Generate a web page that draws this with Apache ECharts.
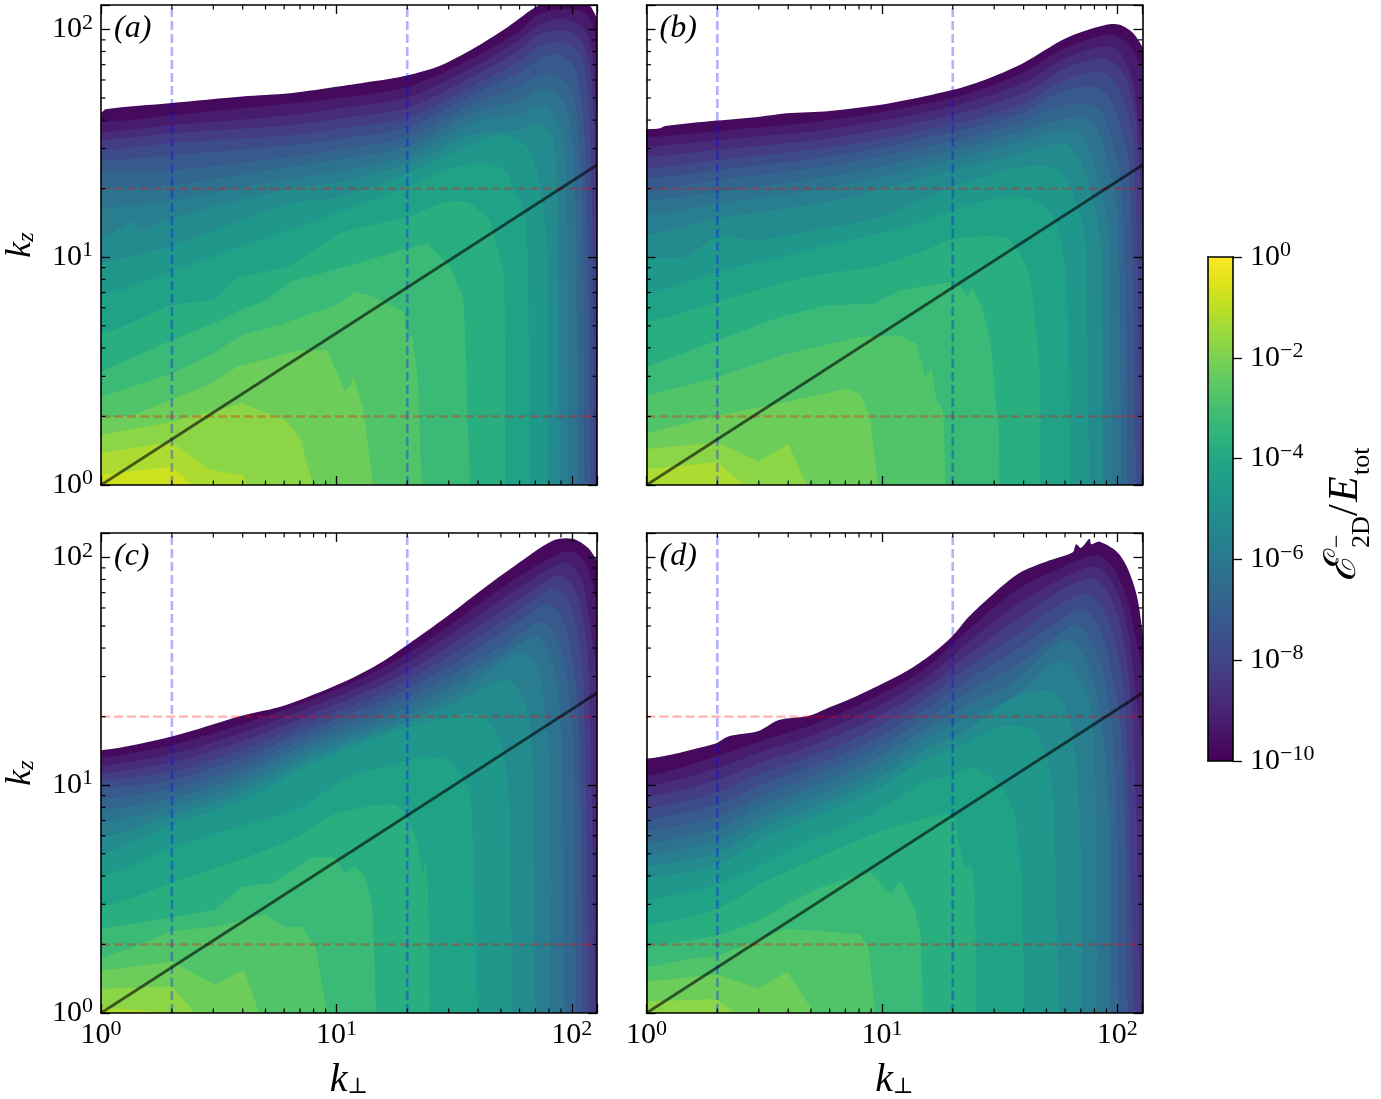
<!DOCTYPE html>
<html><head><meta charset="utf-8">
<style>html,body{margin:0;padding:0;background:#fff}#c{width:1381px;height:1099px}</style>
<script src="https://cdn.jsdelivr.net/npm/echarts@6/dist/echarts.min.js"></script>
</head><body><div id="c"></div>
<script>
// Contour levels of log10(E/E_tot); each contour bounds the band [level, level + 0.5].
const contourLevels = [-10,-9.5,-9,-8.5,-8,-7.5,-7,-6.5,-6,-5.5,-5,-4.5,-4,-3.5,-3,-2.5,-2,-1.5,-1];
// Every contour is a list of [log10 k_perp, log10 k_z], from the left edge round to the bottom edge.
const contoursA = [
 [[0,1.636],[.02,1.65],[.3,1.677],[.6,1.706],[.804,1.72],[1.017,1.75],[1.157,1.772],[1.3,1.798],[1.443,1.842],[1.584,1.917],[1.727,2.01],[1.868,2.11],[2,2.14],[2.072,2.11],[2.102,2.06],[2.13,2]],
 [[0,1.592],[.3,1.623],[.8,1.674],[1.017,1.7],[1.3,1.747],[1.584,1.876],[1.783,1.996],[1.84,2.054],[1.897,2.08],[1.996,2.088],[2.06,2.069],[2.092,2],[2.102,1.93],[2.13,1.74]],
 [[0,1.548],[.3,1.579],[.8,1.623],[1.017,1.655],[1.3,1.7],[1.584,1.836],[1.783,1.959],[1.854,2.018],[1.925,2.044],[1.996,2.04],[2.052,2],[2.08,1.93],[2.095,1.813],[2.103,1.667],[2.13,1.49]],
 [[0,1.513],[.3,1.544],[.8,1.579],[1.017,1.61],[1.3,1.655],[1.584,1.796],[1.783,1.915],[1.854,1.974],[1.925,1.996],[1.996,1.988],[2.038,1.952],[2.067,1.886],[2.084,1.784],[2.095,1.594],[2.105,1],[2.13,0]],
 [[0,1.469],[.3,1.5],[.8,1.535],[1.017,1.565],[1.3,1.611],[1.584,1.755],[1.783,1.864],[1.854,1.923],[1.925,1.944],[1.982,1.937],[2.024,1.9],[2.053,1.835],[2.067,1.725],[2.078,1.55],[2.09,1],[2.098,0]],
 [[0,1.425],[.3,1.447],[.8,1.491],[1.017,1.52],[1.3,1.569],[1.584,1.715],[1.783,1.813],[1.854,1.864],[1.925,1.893],[1.967,1.879],[2.01,1.835],[2.032,1.754],[2.053,1.55],[2.07,1],[2.081,0]],
 [[0,1.373],[.3,1.382],[.8,1.44],[1.017,1.475],[1.3,1.528],[1.584,1.675],[1.783,1.75],[1.854,1.795],[1.911,1.81],[1.953,1.79],[1.996,1.74],[2.017,1.65],[2.032,1.5],[2.05,1],[2.055,0]],
 [[0,1.307],[.3,1.316],[.8,1.396],[1.017,1.43],[1.3,1.487],[1.584,1.635],[1.783,1.69],[1.854,1.73],[1.897,1.74],[1.94,1.715],[1.976,1.66],[1.996,1.58],[2.01,1.4],[2.02,1],[2.026,0]],
 [[0,1.215],[.3,1.25],[.8,1.345],[1.017,1.38],[1.3,1.447],[1.584,1.594],[1.783,1.63],[1.84,1.66],[1.882,1.665],[1.918,1.64],[1.946,1.58],[1.967,1.5],[1.98,1.2],[1.987,0]],
 [[0,1.09],[.138,1.155],[.166,1.12],[.3,1.175],[.8,1.301],[1.017,1.33],[1.3,1.408],[1.584,1.54],[1.783,1.56],[1.826,1.585],[1.861,1.59],[1.897,1.56],[1.925,1.5],[1.94,1.2],[1.949,0]],
 [[0,.978],[.3,1.053],[.8,1.235],[1.017,1.265],[1.3,1.367],[1.584,1.5],[1.698,1.535],[1.811,1.484],[1.854,1.367],[1.896,1.038],[1.899,0]],
 [[0,.833],[.301,.94],[.8,1.12],[1.017,1.2],[1.3,1.308],[1.45,1.38],[1.627,1.411],[1.712,1.382],[1.747,1.308],[1.79,1.221],[1.811,1.038],[1.823,0]],
 [[0,.665],[.301,.789],[.485,.819],[.577,.906],[.804,.965],[1.017,1.104],[1.3,1.177],[1.442,1.235],[1.549,1.243],[1.598,1.213],[1.648,1.162],[1.684,1.038],[1.712,.906],[1.717,0]],
 [[0,.497],[.301,.636],[.478,.709],[.591,.768],[.691,.804],[.804,.892],[1.06,.965],[1.3,1.038],[1.386,1.06],[1.485,.958],[1.514,.877],[1.539,.826],[1.549,.614],[1.567,0]],
 [[0,.387],[.301,.49],[.464,.57],[.599,.658],[.698,.687],[.776,.709],[.996,.789],[1.06,.833],[1.074,.848],[1.159,.826],[1.287,.76],[1.301,.643],[1.322,.658],[1.346,.468],[1.362,0]],
 [[0,.292],[.138,.307],[.471,.446],[.577,.519],[.847,.592],[.96,.592],[1.038,.409],[1.06,.439],[1.074,.475],[1.116,.322],[1.155,0]],
 [[0,.219],[.298,.278],[.464,.322],[.599,.358],[.783,.285],[.847,.205],[.901,0]],
 [[0,.139],[.298,.19],[.464,.066],[.606,.044],[.623,0]],
 [[0,.044],[.298,.08],[.379,.007],[.386,0]]
];
const contoursB = [
 [[0,1.562],[.058,1.566],[.079,1.576],[.301,1.6],[.482,1.617],[.595,1.632],[.779,1.642],[1.034,1.676],[1.303,1.735],[1.43,1.776],[1.6,1.852],[1.784,1.962],[1.953,2.02],[2.01,2.02],[2.067,1.984],[2.106,1.925],[2.13,1.88]],
 [[0,1.526],[.301,1.554],[.8,1.605],[1.303,1.7],[1.6,1.81],[1.78,1.92],[1.95,1.977],[2,1.97],[2.05,1.93],[2.085,1.87],[2.13,1.78]],
 [[0,1.485],[.301,1.515],[.8,1.565],[1.303,1.665],[1.6,1.765],[1.78,1.875],[1.94,1.925],[2,1.91],[2.04,1.85],[2.07,1.75],[2.095,1.55],[2.13,1.3]],
 [[0,1.441],[.301,1.471],[.8,1.525],[1.303,1.625],[1.6,1.72],[1.78,1.83],[1.93,1.874],[1.99,1.85],[2.04,1.78],[2.08,1.6],[2.125,.8],[2.13,0]],
 [[0,1.39],[.301,1.427],[.8,1.485],[1.303,1.585],[1.6,1.675],[1.78,1.78],[1.91,1.815],[1.97,1.79],[2.02,1.71],[2.07,1.5],[2.1,0]],
 [[0,1.346],[.301,1.383],[.8,1.445],[1.303,1.55],[1.6,1.635],[1.75,1.72],[1.89,1.75],[1.95,1.72],[2,1.62],[2.05,1.4],[2.08,0]],
 [[0,1.295],[.301,1.339],[.8,1.405],[1.303,1.51],[1.6,1.595],[1.75,1.66],[1.87,1.676],[1.93,1.64],[1.97,1.54],[2.02,1.3],[2.045,0]],
 [[0,1.25],[.301,1.287],[.8,1.36],[1.303,1.47],[1.6,1.555],[1.75,1.6],[1.85,1.617],[1.91,1.57],[1.95,1.46],[2,1.2],[2.017,0]],
 [[0,1.185],[.301,1.236],[.8,1.31],[1.303,1.43],[1.6,1.515],[1.72,1.55],[1.83,1.56],[1.88,1.48],[1.92,1.35],[1.965,1.1],[1.975,0]],
 [[0,1.097],[.301,1.17],[.8,1.25],[1.303,1.385],[1.6,1.46],[1.71,1.49],[1.78,1.5],[1.84,1.43],[1.89,1.28],[1.93,1.05],[1.939,0]],
 [[0,1.001],[.16,1.001],[.301,1.089],[.468,1.075],[.75,1.125],[1,1.18],[1.303,1.31],[1.52,1.38],[1.6,1.397],[1.741,1.39],[1.798,1.309],[1.84,1.192],[1.861,1.104],[1.883,0]],
 [[0,.84],[.301,.935],[.567,1],[.82,1.067],[1.105,1.133],[1.303,1.207],[1.529,1.265],[1.628,1.258],[1.706,1.207],[1.748,1.119],[1.784,.884],[1.798,0]],
 [[0,.716],[.301,.804],[.567,.884],[.765,.928],[.963,.957],[1.147,1.016],[1.29,1.075],[1.388,1.09],[1.529,1.082],[1.586,1.016],[1.628,.913],[1.649,.737],[1.67,.518],[1.673,0]],
 [[0,.518],[.301,.635],[.567,.737],[.765,.789],[.963,.796],[1.076,.855],[1.286,.891],[1.338,.87],[1.366,.825],[1.38,.867],[1.423,.789],[1.458,.642],[1.472,.518],[1.487,.334],[1.498,.224],[1.5,0]],
 [[0,.393],[.301,.474],[.595,.576],[.907,.65],[1.076,.657],[1.147,.62],[1.182,.474],[1.211,.51],[1.232,.371],[1.26,.334],[1.27,0]],
 [[0,.227],[.301,.305],[.595,.364],[.85,.422],[.907,.4],[.949,.298],[.984,0]],
 [[0,.158],[.301,.188],[.475,.104],[.603,.18],[.68,0]],
 [[0,.07],[.301,.1],[.412,0]]
];
const contoursC = [
 [[0,1.154],[.301,1.214],[.598,1.305],[.78,1.35],[1.036,1.455],[1.177,1.531],[1.301,1.616],[1.474,1.744],[1.607,1.849],[1.755,1.961],[1.921,2.074],[2.003,2.082],[2.069,2.042],[2.111,1.977],[2.13,1.93]],
 [[0,1.122],[.301,1.177],[.598,1.268],[.896,1.376],[1.226,1.531],[1.5,1.715],[1.75,1.9],[1.97,2.026],[2.03,2.01],[2.07,1.95],[2.095,1.85],[2.13,1.6]],
 [[0,1.085],[.301,1.138],[.598,1.23],[.896,1.344],[1.226,1.494],[1.5,1.67],[1.75,1.85],[1.96,1.977],[2.02,1.94],[2.055,1.85],[2.085,1.65],[2.13,1.2]],
 [[0,1.053],[.301,1.1],[.598,1.193],[.896,1.313],[1.226,1.457],[1.5,1.625],[1.75,1.8],[1.94,1.921],[2,1.88],[2.04,1.78],[2.07,1.55],[2.1,0]],
 [[0,1.021],[.301,1.061],[.598,1.156],[.896,1.281],[1.226,1.42],[1.5,1.58],[1.75,1.75],[1.92,1.865],[1.98,1.82],[2.02,1.7],[2.05,1.45],[2.073,0]],
 [[0,.987],[.301,1.023],[.598,1.119],[.896,1.25],[1.226,1.384],[1.5,1.535],[1.75,1.7],[1.89,1.793],[1.95,1.75],[1.99,1.63],[2.03,1.3],[2.045,0]],
 [[0,.94],[.301,.984],[.598,1.081],[.896,1.219],[1.226,1.347],[1.5,1.49],[1.75,1.64],[1.87,1.72],[1.93,1.66],[1.97,1.52],[2.005,1.2],[2.017,0]],
 [[0,.892],[.301,.945],[.598,1.044],[.896,1.187],[1.226,1.31],[1.5,1.445],[1.75,1.6],[1.85,1.656],[1.9,1.59],[1.94,1.42],[1.96,1.1],[1.97,0]],
 [[0,.836],[.301,.907],[.598,1.007],[.896,1.156],[1.226,1.273],[1.5,1.4],[1.72,1.55],[1.8,1.584],[1.86,1.5],[1.89,1.3],[1.91,1],[1.912,0]],
 [[0,.772],[.301,.868],[.598,.97],[.896,1.124],[1.226,1.25],[1.5,1.36],[1.722,1.463],[1.788,1.399],[1.83,1.206],[1.846,0]],
 [[0,.699],[.301,.828],[.598,.932],[.896,1.093],[1.226,1.23],[1.375,1.27],[1.574,1.318],[1.64,1.286],[1.698,1.19],[1.731,.98],[1.747,0]],
 [[0,.603],[.301,.723],[.565,.812],[.846,.9],[1.036,1.029],[1.26,1.093],[1.342,1.122],[1.474,1.109],[1.549,1.013],[1.574,.9],[1.598,0]],
 [[0,.466],[.301,.571],[.483,.635],[.697,.715],[.83,.772],[.979,.868],[1.144,.908],[1.26,.908],[1.326,.804],[1.35,.723],[1.367,.619],[1.383,.675],[1.4,0]],
 [[0,.37],[.301,.42],[.483,.453],[.598,.555],[.73,.571],[.896,.683],[.995,.683],[1.036,.611],[1.078,.643],[1.119,.603],[1.152,.482],[1.169,0]],
 [[0,.241],[.14,.29],[.301,.36],[.483,.38],[.697,.434],[.78,.378],[.855,.378],[.912,.29],[.959,0]],
 [[0,.185],[.301,.225],[.483,.125],[.607,.19],[.673,0]],
 [[0,.105],[.301,.116],[.4,0]],
 [[0,.024],[.2,.01],[.25,0]]
];
const contoursD = [
 [[0,1.116],[.29,1.182],[.347,1.214],[.476,1.238],[.562,1.286],[.692,1.305],[.778,1.342],[.892,1.391],[1.036,1.463],[1.122,1.511],[1.222,1.584],[1.301,1.656],[1.366,1.736],[1.466,1.833],[1.581,1.929],[1.71,1.986],[1.811,2.023],[1.825,2.058],[1.846,2.042],[1.882,2.082],[1.89,2.058],[1.925,2.069],[1.997,2.026],[2.04,1.961],[2.083,1.833],[2.109,1.656],[2.13,1.45]],
 [[0,1.04],[.297,1.127],[.505,1.2],[.692,1.26],[.95,1.375],[1.179,1.509],[1.366,1.681],[1.567,1.854],[1.75,1.95],[1.91,2.01],[1.97,1.97],[2.02,1.88],[2.06,1.74],[2.13,1.3]],
 [[0,.995],[.297,1.074],[.505,1.154],[.692,1.214],[.95,1.329],[1.179,1.464],[1.366,1.627],[1.567,1.788],[1.75,1.9],[1.9,1.961],[1.96,1.92],[2.01,1.82],[2.05,1.65],[2.09,1.3],[2.13,1]],
 [[0,.95],[.297,1.021],[.505,1.107],[.692,1.169],[.95,1.284],[1.179,1.42],[1.366,1.572],[1.567,1.723],[1.75,1.85],[1.89,1.907],[1.95,1.86],[2,1.75],[2.04,1.55],[2.07,1.2],[2.1,0]],
 [[0,.9],[.297,.968],[.505,1.059],[.692,1.124],[.95,1.238],[1.179,1.375],[1.366,1.518],[1.567,1.657],[1.75,1.79],[1.86,1.842],[1.93,1.79],[1.98,1.67],[2.03,1.4],[2.071,0]],
 [[0,.85],[.297,.916],[.505,1.011],[.692,1.079],[.95,1.193],[1.179,1.331],[1.366,1.463],[1.567,1.591],[1.75,1.72],[1.85,1.777],[1.91,1.72],[1.96,1.58],[2.02,1.2],[2.044,0]],
 [[0,.8],[.297,.863],[.505,.963],[.692,1.033],[.95,1.147],[1.179,1.287],[1.366,1.408],[1.567,1.525],[1.75,1.66],[1.82,1.704],[1.88,1.65],[1.94,1.5],[1.99,1.1],[2.004,0]],
 [[0,.745],[.297,.81],[.505,.915],[.692,.988],[.95,1.102],[1.179,1.242],[1.366,1.354],[1.567,1.459],[1.72,1.6],[1.79,1.64],[1.85,1.58],[1.91,1.42],[1.96,1],[1.971,0]],
 [[0,.695],[.297,.757],[.505,.868],[.692,.943],[.95,1.056],[1.179,1.198],[1.366,1.299],[1.567,1.394],[1.753,1.55],[1.839,1.479],[1.889,1.334],[1.911,.852],[1.914,0]],
 [[0,.645],[.297,.704],[.505,.82],[.692,.897],[.95,1.01],[1.179,1.153],[1.366,1.245],[1.567,1.39],[1.71,1.415],[1.768,1.367],[1.818,1.19],[1.846,.691],[1.851,0]],
 [[0,.595],[.297,.651],[.505,.772],[.692,.852],[.95,.965],[1.179,1.109],[1.366,1.19],[1.524,1.262],[1.646,1.238],[1.696,1.141],[1.725,.981],[1.753,0]],
 [[0,.498],[.297,.563],[.505,.659],[.692,.756],[.95,.868],[1.179,1.013],[1.301,1.045],[1.38,1.077],[1.466,1.029],[1.524,.965],[1.567,.852],[1.595,.531],[1.603,0]],
 [[0,.386],[.297,.458],[.491,.571],[.663,.651],[.95,.78],[1.122,.836],[1.301,.868],[1.323,.772],[1.352,.643],[1.38,.651],[1.395,.498],[1.402,0]],
 [[0,.289],[.297,.338],[.476,.405],[.605,.482],[.749,.555],[.95,.619],[1.036,.523],[1.079,.579],[1.136,.466],[1.165,.338],[1.175,0]],
 [[0,.201],[.2,.24],[.297,.249],[.591,.37],[.778,.357],[.907,.346],[.943,.289],[.971,0]],
 [[0,.137],[.297,.169],[.476,.109],[.598,.18],[.713,0]],
 [[0,.051],[.29,.061],[.383,0]]
];

const panelLetters = ['(a)','(b)','(c)','(d)'];
const axisMin = 1, axisMax = 128;
const minorTickValues = [2,3,4,5,6,7,8,9,20,30,40,50,60,70,80,90];
const guideKPerp = [2,20];
const guideKz = [2,20];
const criticalBalanceK = [1,128];
const criticalBalanceKz = [1,25.4];
const colorbarExponents = [-10,-8,-6,-4,-2,0];
const viridisStops = ['#440154','#471365','#482475','#463480','#414487','#3b528b','#355f8d','#2f6c8e','#2a788e','#25848e','#21918c','#1e9c89','#22a884','#2fb47c','#44bf70','#5ec962','#7ad151','#9bd93c','#bddf26','#dfe318','#fde725'];

const SERIF = '"Liberation Serif", "DejaVu Serif", serif';
const SANS_MATH = '"DejaVu Serif", serif';

function hex(c){return [1,3,5].map(i=>parseInt(c.substr(i,2),16));}
function viridis(t){
  const p=Math.min(Math.max(t,0),1)*(viridisStops.length-1), i=Math.min(Math.floor(p),viridisStops.length-2), f=p-i;
  const a=hex(viridisStops[i]), b=hex(viridisStops[i+1]);
  return 'rgb('+a.map((v,j)=>Math.round(v+(b[j]-v)*f)).join(',')+')';
}
const powerRich = {
  b:{fontFamily:SERIF,fontSize:30,color:'#000'},
  s:{fontFamily:SERIF,fontSize:22,color:'#000',padding:[0,0,13,0]}
};
function isDecade(v){const l=Math.log10(v);return Math.abs(l-Math.round(l))<1e-6;}
function decadeLabel(v){return isDecade(v)?'{b|10}{s|'+Math.round(Math.log10(v))+'}':'';}

const panels = [
 {c:contoursA,left:101,top:5,xl:false,yl:true},
 {c:contoursB,left:646.5,top:5,xl:false,yl:false},
 {c:contoursC,left:101,top:533,xl:true,yl:true},
 {c:contoursD,left:646.5,top:533,xl:true,yl:false}
];
const grids=[],xAxes=[],yAxes=[],series=[],graphics=[];
const axisStroke={color:'#000',width:1.6}, tickStroke={color:'#000',width:1.3};

function logAxis(gi,pos,labelled,extra){
  return Object.assign({type:'log',logBase:10,gridIndex:gi,position:pos,min:axisMin,max:axisMax,z:10,
    splitLine:{show:false},minorTick:{show:false},minorSplitLine:{show:false},
    axisLine:{show:true,onZero:false,lineStyle:axisStroke},
    axisTick:{show:true,inside:true,length:9,lineStyle:tickStroke},
    axisLabel:labelled?{show:true,formatter:decadeLabel,rich:powerRich,margin:pos==='bottom'?5:8,hideOverlap:false,showMinLabel:true,showMaxLabel:true}:{show:false}},extra||{});
}
panels.forEach((p,gi)=>{
  grids.push({left:p.left,top:p.top,width:496,height:480,show:false,containLabel:false,outerBoundsMode:'none'});
  const bx=xAxes.length, by=yAxes.length;
  xAxes.push(logAxis(gi,'bottom',p.xl,p.xl?{name:'{i|k}{s|⊥}',nameLocation:'middle',nameGap:47,
    nameTextStyle:{rich:{i:{fontFamily:SERIF,fontStyle:'italic',fontSize:40,color:'#000'},s:{fontFamily:SANS_MATH,fontSize:22,color:'#000',padding:[14,0,0,0]}}}}:{}));
  xAxes.push(logAxis(gi,'top',false));
  yAxes.push(logAxis(gi,'left',p.yl,p.yl?{name:'{i|k}{s|z}',nameLocation:'middle',nameGap:62,nameRotate:90,
    nameTextStyle:{rich:{i:{fontFamily:SERIF,fontStyle:'italic',fontSize:36,color:'#000'},s:{fontFamily:SERIF,fontStyle:'italic',fontSize:24,color:'#000',padding:[12,0,0,0]}}}}:{}));
  yAxes.push(logAxis(gi,'right',false));

  // Filled contour bands, painted from the outermost level inwards.
  // The closing path runs outside the frame, so that curve smoothing never rounds a visible corner;
  // the high levels, resolved by few modes, keep their straight segments.
  series.push({type:'custom',xAxisIndex:bx,yAxisIndex:by,clip:true,silent:true,animation:false,z:2,
    data:p.c.map((_,i)=>[1,1,i]),encode:{x:0,y:1},
    renderItem:(params,api)=>{
      const i=api.value(2), line=p.c[i], first=line[0], last=line[line.length-1];
      const ring=[[-.3,first[1]]].concat(line,[[last[0],-.3],[-.3,-.3]]);
      const pts=ring.map(q=>api.coord([Math.pow(10,q[0]),Math.pow(10,q[1])]));
      const level=contourLevels[i];
      return {type:'polygon',shape:{points:pts,smooth:level>=-3.5?0:.3},style:{fill:viridis(((level+10)*2+.5)/20),stroke:null}};
    }});
  guideKPerp.forEach(k=>series.push({type:'line',xAxisIndex:bx,yAxisIndex:by,data:[[k,axisMin],[k,axisMax]],symbol:'none',silent:true,animation:false,z:3,
    lineStyle:{color:'rgba(0,0,255,0.3)',width:2.6,type:[9,4]}}));
  guideKz.forEach(k=>series.push({type:'line',xAxisIndex:bx,yAxisIndex:by,data:[[axisMin,k],[axisMax,k]],symbol:'none',silent:true,animation:false,z:3,
    lineStyle:{color:'rgba(255,0,0,0.3)',width:2.4,type:[9,4]}}));
  series.push({type:'line',xAxisIndex:bx,yAxisIndex:by,data:criticalBalanceK.map((k,i)=>[k,criticalBalanceKz[i]]),symbol:'none',silent:true,animation:false,z:4,
    lineStyle:{color:'rgba(0,0,0,0.6)',width:2.7}});
  // Log-spaced minor ticks on all four sides of the frame.
  series.push({type:'custom',xAxisIndex:bx,yAxisIndex:by,clip:false,silent:true,animation:false,z:5,
    data:minorTickValues.map(v=>[v,1]),encode:{x:0,y:1},
    renderItem:(params,api)=>{
      const v=api.value(0), st={stroke:'#000',lineWidth:1.2};
      const a=api.coord([v,axisMin]), b=api.coord([v,axisMax]), c=api.coord([axisMin,v]), d=api.coord([axisMax,v]);
      return {type:'group',children:[
        {type:'line',shape:{x1:a[0],y1:a[1],x2:a[0],y2:a[1]-4.5},style:st},
        {type:'line',shape:{x1:b[0],y1:b[1],x2:b[0],y2:b[1]+4.5},style:st},
        {type:'line',shape:{x1:c[0],y1:c[1],x2:c[0]+4.5,y2:c[1]},style:st},
        {type:'line',shape:{x1:d[0],y1:d[1],x2:d[0]-4.5,y2:d[1]},style:st}]};
    }});
  graphics.push({type:'text',left:p.left+13,top:p.top+8,z:20,style:{text:panelLetters[gi],font:'italic 32px '+SERIF,fill:'#000'}});
});

// Colour bar: its own grid with an exponent axis on the right-hand side.
const cg=grids.length;
grids.push({left:1208,top:257,width:25,height:504,show:false,outerBoundsMode:'none'});
const plainX={type:'value',gridIndex:cg,min:0,max:1,z:10,splitLine:{show:false},axisTick:{show:false},axisLabel:{show:false},axisLine:{show:true,onZero:false,lineStyle:axisStroke}};
const cbx=xAxes.length, cby=yAxes.length;
xAxes.push(Object.assign({position:'bottom'},plainX));
xAxes.push(Object.assign({position:'top'},plainX));
yAxes.push({type:'value',gridIndex:cg,position:'right',min:colorbarExponents[0],max:colorbarExponents[colorbarExponents.length-1],interval:2,z:10,
  splitLine:{show:false},axisLine:{show:true,onZero:false,lineStyle:axisStroke},
  axisTick:{show:true,inside:false,length:9,lineStyle:tickStroke},
  axisLabel:{show:true,margin:17,rich:powerRich,hideOverlap:false,formatter:v=>'{b|10}{s|'+(v<0?'−'+(-v):v)+'}'}});
yAxes.push({type:'value',gridIndex:cg,position:'left',min:-10,max:0,z:10,splitLine:{show:false},axisTick:{show:false},axisLabel:{show:false},axisLine:{show:true,onZero:false,lineStyle:axisStroke}});
series.push({type:'custom',xAxisIndex:cbx,yAxisIndex:cby,silent:true,animation:false,z:2,data:[[0,-10]],encode:{x:0,y:1},
  renderItem:(params,api)=>{
    const a=api.coord([0,colorbarExponents[0]]), b=api.coord([1,0]);
    return {type:'rect',shape:{x:a[0],y:b[1],width:b[0]-a[0],height:a[1]-b[1]},style:{
      fill:{type:'linear',x:0,y:1,x2:0,y2:0,colorStops:viridisStops.map((c,i)=>({offset:i/(viridisStops.length-1),color:c}))}}};
  }});

// Rotated colour-bar caption, built from separately placed pieces of text.
graphics.push({type:'group',x:1353,y:582,rotation:Math.PI/2,z:20,children:[
  {type:'text',x:0,y:-31,style:{text:'ℰ',font:'italic 44px '+SANS_MATH,fill:'#000'}},
  {type:'text',x:34,y:-27,style:{text:'−',font:'24px '+SERIF,fill:'#000'}},
  {type:'text',x:34,y:-4,style:{text:'2D',font:'26px '+SERIF,fill:'#000'}},
  {type:'text',x:66,y:-28,style:{text:'/',font:'42px '+SERIF,fill:'#000'}},
  {type:'text',x:80,y:-28,style:{text:'E',font:'italic 42px '+SERIF,fill:'#000'}},
  {type:'text',x:107,y:-4,style:{text:'tot',font:'26px '+SERIF,fill:'#000'}}
]});

const chart=echarts.init(document.getElementById('c'),null,{renderer:'canvas'});
chart.setOption({animation:false,backgroundColor:'#fff',grid:grids,xAxis:xAxes,yAxis:yAxes,series:series,graphic:graphics});
</script></body></html>
